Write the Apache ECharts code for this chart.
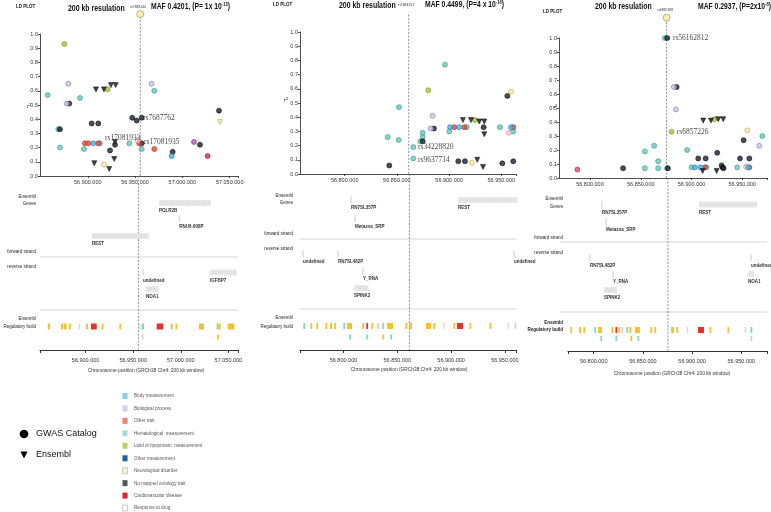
<!DOCTYPE html>
<html><head><meta charset="utf-8">
<script src="https://cdn.jsdelivr.net/npm/echarts@6/dist/echarts.min.js"></script>
<style>html,body{margin:0;padding:0;background:#fff}#c{width:771px;height:512px}</style>
</head><body><div id="c"></div>
<script>
// ---------------- DATA ----------------
// x positions in kb on chr4 (GRCh38)
const ticks1 = [56900, 56950, 57000, 57050];
const tickLabels1 = ['56.900.000','56.950.000','57.000.000','57.050.000'];
const ticks23 = [56800, 56850, 56900, 56950];
const tickLabels23 = ['56.800.000','56.850.000','56.900.000','56.950.000'];

// LD points: [position kb, r2, trait class]
const ld1 = [
 [56857.6,0.57,'teal'],[56875.2,0.93,'lipid'],[56879.4,0.65,'lav'],[56877.7,0.51,'lav'],[56880.4,0.51,'black'],
 [56868.8,0.33,'teal'],[56870.6,0.33,'black'],[56870.6,0.20,'teal'],[56891.8,0.55,'teal'],[56896.0,0.19,'teal'],
 [56897.0,0.23,'red'],[56900.5,0.23,'red'],[56905.8,0.23,'cyan'],[56911.1,0.23,'red'],[56912.9,0.23,'teal'],
 [56904.1,0.37,'black'],[56911.1,0.37,'black'],[56908.7,0.61,'tri'],[56917.1,0.61,'tri'],[56924.5,0.64,'tri'],
 [56929.5,0.64,'tri'],[56921.0,0.61,'lipid'],[56906.9,0.09,'tri'],[56917.1,0.08,'lyel'],[56922.7,0.05,'tri'],
 [56923.5,0.18,'black'],[56928.0,0.12,'tri'],[56928.8,0.22,'black'],[56928.8,0.24,'tri'],[56943.9,0.23,'teal'],
 [56947.0,0.41,'black'],[56951.7,0.39,'black'],[56957.0,0.41,'black'],[56952.7,0.25,'pink'],[56954.4,0.23,'red'],
 [56957.0,0.23,'black'],[56957.0,0.19,'teal'],[56967.5,0.65,'lav'],[56970.3,0.60,'teal'],[56970.3,0.19,'red'],
 [56989.7,0.17,'black'],[56988.7,0.14,'cyan'],[57012.3,0.24,'purple'],[57018.6,0.22,'black'],[57026.7,0.14,'dred'],
 [57038.7,0.46,'black'],[57039.8,0.38,'ytri']
];
const ld2 = [
 [56842.7,0.06,'black'],[56841.2,0.26,'teal'],[56852.0,0.47,'teal'],[56851.7,0.24,'teal'],[56865.7,0.19,'teal'],
 [56865.7,0.11,'teal'],[56872.4,0.23,'teal'],[56874.7,0.23,'black'],[56874.7,0.29,'teal'],[56874.7,0.26,'teal'],
 [56880.1,0.59,'lipid'],[56882.4,0.32,'lav'],[56885.5,0.32,'black'],[56884.3,0.41,'lav'],[56896.1,0.77,'teal'],
 [56900.2,0.30,'teal'],[56900.9,0.33,'cyan'],[56905.0,0.33,'red'],[56909.8,0.33,'cyan'],[56914.6,0.33,'red'],
 [56916.9,0.33,'teal'],[56908.8,0.09,'black'],[56915.2,0.09,'black'],[56921.9,0.08,'lyel'],[56913.3,0.38,'tri'],
 [56921.0,0.38,'tri'],[56924.8,0.38,'lipid'],[56928.9,0.37,'tri'],[56933.7,0.37,'tri'],[56933.1,0.33,'black'],
 [56933.7,0.28,'tri'],[56927.0,0.10,'tri'],[56932.5,0.05,'tri'],[56948.8,0.33,'teal'],[56951.0,0.075,'black'],
 [56955.8,0.55,'black'],[56959.3,0.58,'lyel'],[56957.4,0.29,'pink'],[56959.3,0.33,'cyan'],[56961.5,0.33,'red'],
 [56961.5,0.30,'teal'],[56961.5,0.09,'black']
];
const ld3 = [
 [56873.7,1.0,'teal'],[56876.0,1.0,'black'],[56787.6,0.06,'rose'],[56832.6,0.07,'black'],[56854.0,0.07,'teal'],
 [56854.0,0.19,'teal'],[56863.2,0.23,'teal'],[56867.1,0.12,'teal'],[56867.1,0.07,'teal'],[56876.0,0.07,'teal'],
 [56876.7,0.07,'black'],[56882.6,0.65,'lav'],[56885.3,0.65,'black'],[56884.6,0.49,'lav'],[56880.3,0.33,'lipid'],
 [56895.7,0.20,'teal'],[56900.0,0.076,'teal'],[56903.3,0.076,'cyan'],[56908.9,0.076,'cyan'],[56913.2,0.076,'red'],
 [56914.8,0.076,'teal'],[56906.6,0.14,'black'],[56913.9,0.14,'black'],[56910.9,0.05,'tri'],[56924.7,0.05,'tri'],
 [56911.5,0.41,'tri'],[56919.1,0.41,'tri'],[56922.3,0.42,'lipid'],[56926.3,0.42,'tri'],[56931.2,0.42,'tri'],
 [56925.3,0.18,'black'],[56929.6,0.09,'black'],[56930.6,0.075,'black'],[56931.5,0.07,'black'],[56945.0,0.076,'teal'],
 [56947.7,0.14,'black'],[56951.3,0.27,'black'],[56954.9,0.34,'lyel'],[56953.6,0.08,'pink'],[56955.9,0.076,'cyan'],
 [56956.9,0.076,'red'],[56956.9,0.14,'black'],[56966.7,0.23,'lav'],[56969.7,0.30,'teal']
];
// lead SNP position (kb) and plotted r2 marker height
const lead1 = [56955.5, 1.14];
const lead2 = [56861.3, 1.136];
const lead3 = [56875.4, 1.145];

// annotations: [label, x kb, r2]
const ann1 = [['rs7687762',56958.4,0.41],['rs17081933',56918.2,0.27],['rs17081935',56959.4,0.24]];
const ann2 = [['rs34228820',56870.2,0.19],['rs9637714',56870.2,0.10]];
const ann3 = [['rs56162812',56881.6,1.0],['rs6857226',56885.5,0.33]];

// genes: [name, start kb, end kb, lane]
const genes1 = [['POLR2B',56977.1,57031.7,0],['RNU6-808P',56998.4,56998.4,1],['REST',56906.7,56966.6,2],
 ['undefined',56960.3,56960.3,3],['NOA1',56963.4,56977.1,4],['IGFBP7',57030.7,57059.0,3]];
const genes2 = [['RN7SL357P',56807.0,56807.0,0],['Metazoa_SRP',56810.7,56810.7,1],['REST',56906.4,56962.0,0],
 ['undefined',56762.4,56762.4,2],['RN7SL482P',56794.9,56794.9,2],['Y_RNA',56818.1,56818.1,3],
 ['SPINK2',56809.8,56822.8,4],['undefined',56958.5,56958.5,2]];
const genes3 = [['RN7SL357P',56808.4,56808.4,0],['Metazoa_SRP',56812.5,56812.5,1],['REST',56907.0,56966.0,0],
 ['RN7SL482P',56796.2,56796.2,2],['Y_RNA',56819.6,56819.6,3],['SPINK2',56810.5,56823.7,4],
 ['undefined',56959.9,56959.9,2],['NOA1',56956.8,56962.9,3]];

// regulatory features: [start kb, end kb, type, row]
const reg1 = [[56860.2,56862.6,'enh',0],[56874.2,56876.6,'enh',0],[56877.3,56880.1,'enh',0],[56882.6,56884.3,'enh',0],
 [56892.5,56893.7,'open',0],[56900.6,56901.8,'enh',0],[56905.7,56911.7,'prom',0],[56916.9,56918.1,'enh',0],
 [56935.5,56936.7,'enh',0],[56955.8,56957.0,'open',0],[56958.9,56961.3,'ctcf',0],[56974.7,56981.6,'prom',0],
 [56989.4,56991.5,'enh',0],[56994.4,56995.6,'enh',0],[57019.1,57024.4,'enh',0],[57037.7,57039.4,'ctcf',0],
 [57039.4,57041.9,'enh',0],[57049.3,57056.2,'enh',0],[56959.0,56960.2,'tf',1],[57038.2,57039.4,'enh',1]];
const reg2 = [[56762.7,56763.9,'ctcf',0],[56769.2,56770.4,'enh',0],[56774.8,56776.0,'enh',0],[56783.1,56784.3,'enh',0],
 [56787.5,56789.3,'enh',0],[56791.5,56792.7,'enh',0],[56799.9,56801.1,'ctcf',0],[56803.3,56807.9,'enh',0],
 [56817.5,56818.7,'enh',0],[56821.2,56822.4,'prom',0],[56825.9,56827.1,'enh',0],[56831.1,56833.0,'tf',0],
 [56836.1,56837.3,'ctcf',0],[56840.4,56846.0,'enh',0],[56857.5,56858.7,'enh',0],[56860.9,56863.7,'enh',0],
 [56876.7,56881.3,'enh',0],[56883.5,56884.7,'enh',0],[56892.8,56894.0,'open',0],[56902.1,56903.3,'enh',0],
 [56905.5,56911.1,'prom',0],[56917.0,56918.2,'enh',0],[56935.6,56936.8,'enh',0],[56952.3,56953.5,'open',0],
 [56958.8,56960.0,'tf',0],[56805.4,56806.6,'ctcf',1],[56821.2,56822.4,'ctcf',1],[56836.1,56837.3,'enh',1],
 [56843.5,56844.7,'ctcf',1]];
const reg3 = [[56776.3,56777.5,'enh',0],[56785.1,56787.1,'enh',0],[56789.5,56790.7,'enh',0],[56800.7,56801.9,'ctcf',0],
 [56804.4,56808.4,'enh',0],[56818.0,56819.2,'enh',0],[56822.1,56823.3,'prom',0],[56825.1,56826.3,'enh',0],
 [56828.2,56829.4,'tf',0],[56833.2,56834.4,'ctcf',0],[56836.3,56837.5,'enh',0],[56842.0,56847.0,'enh',0],
 [56857.6,56858.8,'enh',0],[56861.7,56862.9,'enh',0],[56874.9,56876.1,'open',0],[56878.6,56881.6,'enh',0],
 [56884.1,56885.3,'enh',0],[56894.2,56895.4,'open',0],[56906.0,56912.1,'prom',0],[56917.6,56918.8,'enh',0],
 [56935.9,56937.1,'enh',0],[56953.2,56954.4,'open',0],[56959.3,56960.5,'ctcf',0],[56806.8,56808.0,'ctcf',1],
 [56822.1,56823.3,'ctcf',1],[56837.3,56838.5,'enh',1],[56844.4,56845.6,'ctcf',1],[56959.3,56960.5,'tf',1]];

// titles
const titles = [
 {rs:'rs7688140', maf:'MAF 0.4201, (P= 1x 10', exp:'-13'},
 {rs:'rs7684253', maf:'MAF 0.4499, (P=4 x 10', exp:'-16'},
 {rs:'rs6835188', maf:'MAF 0.2937, (P=2x10', exp:'-8'}
];
const legendCats = ['Body measurement','Biological process','Other trait','Hematological  measurement',
 'Lipid or lipoprotein  measurement','Other measurement','Neurological disorder','No mapped ontology trait',
 'Cardiovascular disease','Response to drug'];

// ---------------- STYLE / LAYOUT ----------------
const SANS = "'Liberation Sans',Arial,sans-serif";
const SERIF = "'Liberation Serif','Times New Roman',serif";
const legendColors = ['#7fd2dc','#cfcfe8','#f38370','#a3ddd7','#b5d35e','#1f6391','#f8f1c8','#505859','#e1262b','#ffffff'];
const cls = {
 teal:{c:'#62cabb',b:'#2f8f84',s:'circle'}, black:{c:'#1b2434',b:'#000',s:'circle'},
 lav:{c:'#c8c8e6',b:'#6f6fa6',s:'circle'}, lipid:{c:'#a9c43c',b:'#6f8a1e',s:'circle'},
 red:{c:'#e9472e',b:'#a3281a',s:'circle'}, lyel:{c:'#f6eca6',b:'#bba24c',s:'circle'},
 pink:{c:'#f3c6d4',b:'#b98399',s:'circle'}, cyan:{c:'#3fb4e6',b:'#1a78ad',s:'circle'},
 purple:{c:'#b35bb2',b:'#742a72',s:'circle'}, dred:{c:'#cf3344',b:'#851525',s:'circle'},
 rose:{c:'#ea4a6c',b:'#a52040',s:'circle'}, tri:{c:'#111',b:'#111',s:'triangle'},
 ytri:{c:'#f3e7a0',b:'#b9a34a',s:'triangle'}
};
const regColors = {enh:'#f8c02c', prom:'#e8302a', ctcf:'#7fd6c8', open:'#dedede', tf:'#eec4dc'};

const panels = [
 {ld:ld1, lead:lead1, dot:true, ann:ann1, genes:genes1, reg:reg1, ticks:ticks1, labels:tickLabels1,
  ldGrid:{left:40,top:34,width:198,height:142}, ldX:[56849.5,57058.8],
  trGrid:{left:40,top:176,width:198,height:174}, trX:[56852.1,57060.1],
  laneY:[203,218.5,236,272.5,289], regY:[326.5,337], sepY:[257,310], sepX:[40,238], labR:36,
  lab:{eg:[197,204], fs:252, rs:267, er:[319,327]}, axisTitle:[146,371],
  t:{ld:[16,7], res:[68,8], rs:[130,7], maf:[151,7]}, r2:[27,106], boldReg:false},
 {ld:ld2, lead:lead2, dot:false, ann:ann2, genes:genes2, reg:reg2, ticks:ticks23, labels:tickLabels23,
  ldGrid:{left:300,top:32,width:216,height:142}, ldX:[56757.2,56964.1],
  trGrid:{left:300,top:174,width:216,height:176}, trX:[56759.6,56960.3],
  laneY:[200,218.5,254,271,288], regY:[326,337], sepY:[239,309], sepX:[300,516], labR:293,
  lab:{eg:[196,203], fs:234, rs:249, er:[318,327]}, axisTitle:[409,370],
  t:{ld:[273,5], res:[339,5], rs:[398,5], maf:[425,5]}, r2:[284,100], boldReg:false},
 {ld:ld3, lead:lead3, dot:true, ann:ann3, genes:genes3, reg:reg3, ticks:ticks23, labels:tickLabels23,
  ldGrid:{left:559,top:38,width:208,height:140}, ldX:[56769.5,56974.3],
  trGrid:{left:568,top:178,width:199,height:173}, trX:[56773.9,56976.1],
  laneY:[204.5,221.5,257.5,274,290], regY:[330,338.5], sepY:[242,312], sepX:[560,767], labR:563,
  lab:{eg:[199,207], fs:238, rs:253, er:[323,330]}, axisTitle:[672,374],
  t:{ld:[543,12], res:[595,6], rs:[657,10], maf:[698,7]}, r2:[553,107], boldReg:true}
];

// ---------------- BUILD ----------------
const grid=[], xAxis=[], yAxis=[], series=[], graphic=[];
function txt(x,y,text,o,sx){ o=o||{}; graphic.push({type:'text', x:x, y:y, scaleX:sx||1, silent:true, z:10, style:Object.assign({text:text, fontSize:5, fill:'#222', fontFamily:SANS, align:'left', verticalAlign:'middle'}, o)}); }
function hline(x1,x2,y,color,w){ graphic.push({type:'line', silent:true, shape:{x1:x1,y1:y,x2:x2,y2:y}, style:{stroke:color,lineWidth:w||1}}); }

panels.forEach((p,pi)=>{
  const gi = grid.length;
  grid.push(Object.assign({}, p.ldGrid));
  grid.push(Object.assign({}, p.trGrid));
  const lab = v => { const i = p.ticks.findIndex(t=>Math.abs(t-v)<1e-6); return i>=0 ? p.labels[i] : ''; };
  xAxis.push({gridIndex:gi, type:'value', min:p.ldX[0], max:p.ldX[1], splitLine:{show:false},
    axisLine:{show:true,onZero:false,lineStyle:{color:'#222',width:0.8}},
    axisTick:{show:true,customValues:p.ticks.concat([p.ldX[1]]),length:2,lineStyle:{color:'#222',width:0.8}},
    axisLabel:{show:true,customValues:p.ticks,formatter:lab,fontSize:5.5,margin:3,color:'#333',fontFamily:SANS}});
  xAxis.push({gridIndex:gi+1, type:'value', min:p.trX[0], max:p.trX[1], splitLine:{show:false},
    axisLine:{show:true,onZero:false,lineStyle:{color:'#333',width:1.2}},
    axisTick:{show:true,customValues:[p.trX[0]].concat(p.ticks,[p.trX[1]]),length:3,lineStyle:{color:'#333',width:1}},
    axisLabel:{show:true,customValues:p.ticks,formatter:lab,fontSize:5.5,margin:7,color:'#333',fontFamily:SANS}});
  yAxis.push({gridIndex:gi, type:'value', min:0, max:1, interval:0.1, splitLine:{show:false},
    axisLine:{show:true,onZero:false,lineStyle:{color:'#222',width:0.8}},
    axisTick:{show:true,length:2,lineStyle:{color:'#222',width:0.8}},
    axisLabel:{formatter:v=>v.toFixed(1),fontSize:5.5,margin:2,color:'#333',fontFamily:SANS}});
  yAxis.push({gridIndex:gi+1, type:'value', min:0, max:p.trGrid.height, inverse:true, show:false});

  // dashed lead lines
  series.push({type:'custom', xAxisIndex:gi, yAxisIndex:gi, data:[[p.lead[0],0]], clip:false, z:1, silent:true,
    renderItem:(params,api)=>{ const a=api.coord([p.lead[0],0]), b=api.coord([p.lead[0],p.lead[1]]);
      return {type:'line', shape:{x1:a[0],y1:a[1],x2:b[0],y2:b[1]}, style:{stroke:'#777',lineWidth:0.8,lineDash:[2,1.5]}}; }});
  series.push({type:'custom', xAxisIndex:gi+1, yAxisIndex:gi+1, data:[[p.lead[0],0]], clip:false, z:1, silent:true,
    renderItem:(params,api)=>{ const a=api.coord([p.lead[0],0]), b=api.coord([p.lead[0],p.trGrid.height]);
      return {type:'line', shape:{x1:a[0],y1:a[1],x2:b[0],y2:b[1]}, style:{stroke:'#777',lineWidth:0.8,lineDash:[2,1.5]}}; }});

  // LD scatter per class
  Object.keys(cls).forEach(k=>{
    const d = p.ld.filter(r=>r[2]===k).map(r=>[r[0],r[1]]);
    if(!d.length) return;
    const st = cls[k], tri = st.s==='triangle';
    series.push({type:'scatter', xAxisIndex:gi, yAxisIndex:gi, data:d, symbol:st.s, symbolRotate:tri?180:0,
      symbolSize:tri?[5,5]:5, itemStyle:{color:st.c,borderColor:st.b,borderWidth:0.7}, clip:false, z:3, silent:true});
  });
  if(p.dot) series.push({type:'scatter', xAxisIndex:gi, yAxisIndex:gi, data:[[p.lead[0],p.lead[1]]], symbolSize:7,
    itemStyle:{color:'#f6eca6',borderColor:'#b09840',borderWidth:0.9}, clip:false, z:4, silent:true});
  // annotations
  series.push({type:'scatter', xAxisIndex:gi, yAxisIndex:gi, symbolSize:0.1, itemStyle:{color:'rgba(0,0,0,0)'}, clip:false, z:5, silent:true,
    data:p.ann.map(a=>({name:a[0], value:[a[1],a[2]]})),
    label:{show:true, position:'right', distance:0, formatter:'{b}', fontFamily:SERIF, fontSize:7.5, color:'#111'}});

  // genes
  const top = p.trGrid.top;
  series.push({type:'custom', xAxisIndex:gi+1, yAxisIndex:gi+1, data:p.genes.map(g=>[g[1],g[2]]), clip:false, z:2, silent:true,
    renderItem:(params,api)=>{
      const g = p.genes[params.dataIndex]; const yv = p.laneY[g[3]] - top;
      const a = api.coord([g[1],yv]), b = api.coord([g[2],yv]);
      const ch = [];
      if (g[2]-g[1] < 1) {
        ch.push({type:'line', shape:{x1:a[0],y1:a[1]-3.5,x2:a[0],y2:a[1]+3.5}, style:{stroke:'#c6c6c6',lineWidth:0.9}});
      } else {
        ch.push({type:'rect', shape:{x:a[0],y:a[1]-3,width:b[0]-a[0],height:6}, style:{fill:'#e8e8e8'}});
        for (let x=a[0]+1.5; x<b[0]-2; x+=3.2)
          ch.push({type:'polyline', shape:{points:[[x,a[1]-1.6],[x+1.3,a[1]],[x,a[1]+1.6]]}, style:{stroke:'#cdcdcd',lineWidth:0.6,fill:null}});
      }
      ch.push({type:'text', x:a[0], y:a[1]+8, scaleX:0.9, style:{text:g[0], fontSize:5, fontWeight:'bold', fill:'#333', fontFamily:SANS, align:'left', verticalAlign:'middle'}});
      return {type:'group', children:ch};
    }});
  // regulatory build
  series.push({type:'custom', xAxisIndex:gi+1, yAxisIndex:gi+1, data:p.reg.map(r=>[r[0],r[1]]), clip:false, z:2, silent:true,
    renderItem:(params,api)=>{
      const r = p.reg[params.dataIndex]; const yv = p.regY[r[3]] - top; const h = r[3]===0?6:5;
      const a = api.coord([r[0],yv]), b = api.coord([r[1],yv]);
      const w = Math.max(1.8, b[0]-a[0]);
      return {type:'rect', shape:{x:a[0],y:a[1]-h/2,width:w,height:h}, style:{fill:regColors[r[2]]}};
    }});

  // layout texts
  const R = p.labR;
  txt(R,p.lab.eg[0],'Ensembl',{align:'right'},0.9); txt(R,p.lab.eg[1],'Genes',{align:'right'},0.9);
  txt(R,p.lab.fs,'forward strand',{align:'right'},0.9); txt(R,p.lab.rs,'reverse strand',{align:'right'},0.9);
  const bw = p.boldReg ? 'bold' : 'normal';
  txt(R,p.lab.er[0],'Ensembl',{align:'right',fontWeight:bw},0.9); txt(R,p.lab.er[1],'Regulatory build',{align:'right',fontWeight:bw},0.9);
  hline(p.sepX[0],p.sepX[1],p.sepY[0],'#d4d4d4',1); hline(p.sepX[0],p.sepX[1],p.sepY[1],'#d4d4d4',1);
  txt(p.axisTitle[0],p.axisTitle[1],'Chromosome position (GRCh38 Chr4: 200 kb window)',{align:'center',fontSize:5.2,fill:'#333'},0.93);
  const T = titles[pi];
  txt(p.t.ld[0],p.t.ld[1],'LD PLOT',{fontSize:5,fontWeight:'bold'},0.9);
  txt(p.t.res[0],p.t.res[1],'200 kb resulation',{fontSize:9.5,fontWeight:'bold',fill:'#111'},0.73);
  txt(p.t.rs[0],p.t.rs[1],T.rs,{fontSize:4,fill:'#333'},0.85);
  graphic.push({type:'text', x:p.t.maf[0], y:p.t.maf[1], scaleX:0.8, silent:true, z:10, style:{
    text:'{a|'+T.maf+'}{s|'+T.exp+'}{a|)}', align:'left', verticalAlign:'middle',
    rich:{a:{fontSize:8.5,fontWeight:'bold',fontFamily:SANS,fill:'#111',lineHeight:10},
          s:{fontSize:5,fontWeight:'bold',fontFamily:SANS,fill:'#111',verticalAlign:'top',lineHeight:5}}}});
  graphic.push({type:'text', x:p.r2[0], y:p.r2[1], silent:true, z:10, style:{
    text:'{a|r}{s|2}', align:'left', verticalAlign:'middle',
    rich:{a:{fontSize:6,fontFamily:SANS,fill:'#222',lineHeight:7}, s:{fontSize:4,fontFamily:SANS,fill:'#222',verticalAlign:'top',lineHeight:4}}}});
});

// bottom legend
graphic.push({type:'circle', silent:true, shape:{cx:24,cy:434,r:4.3}, style:{fill:'#000'}});
txt(36,434,'GWAS Catalog',{fontSize:9,fill:'#111'});
graphic.push({type:'polygon', silent:true, shape:{points:[[20.5,451.5],[27.5,451.5],[24,458.5]]}, style:{fill:'#000'}});
txt(36,455,'Ensembl',{fontSize:9,fill:'#111'});
legendCats.forEach((name,i)=>{
  const y = 396 + i*12.45;
  graphic.push({type:'rect', silent:true, shape:{x:122.5,y:y-3,width:5,height:6}, style:{fill:legendColors[i], stroke:i===9||i===6?'#aaa':null, lineWidth:0.6}});
  txt(134,y,name,{fontSize:5,fill:'#555'},0.92);
});

const chart = echarts.init(document.getElementById('c'), null, {renderer:'canvas'});
chart.setOption({animation:false, backgroundColor:'#fff', grid, xAxis, yAxis, series, graphic});
</script></body></html>
